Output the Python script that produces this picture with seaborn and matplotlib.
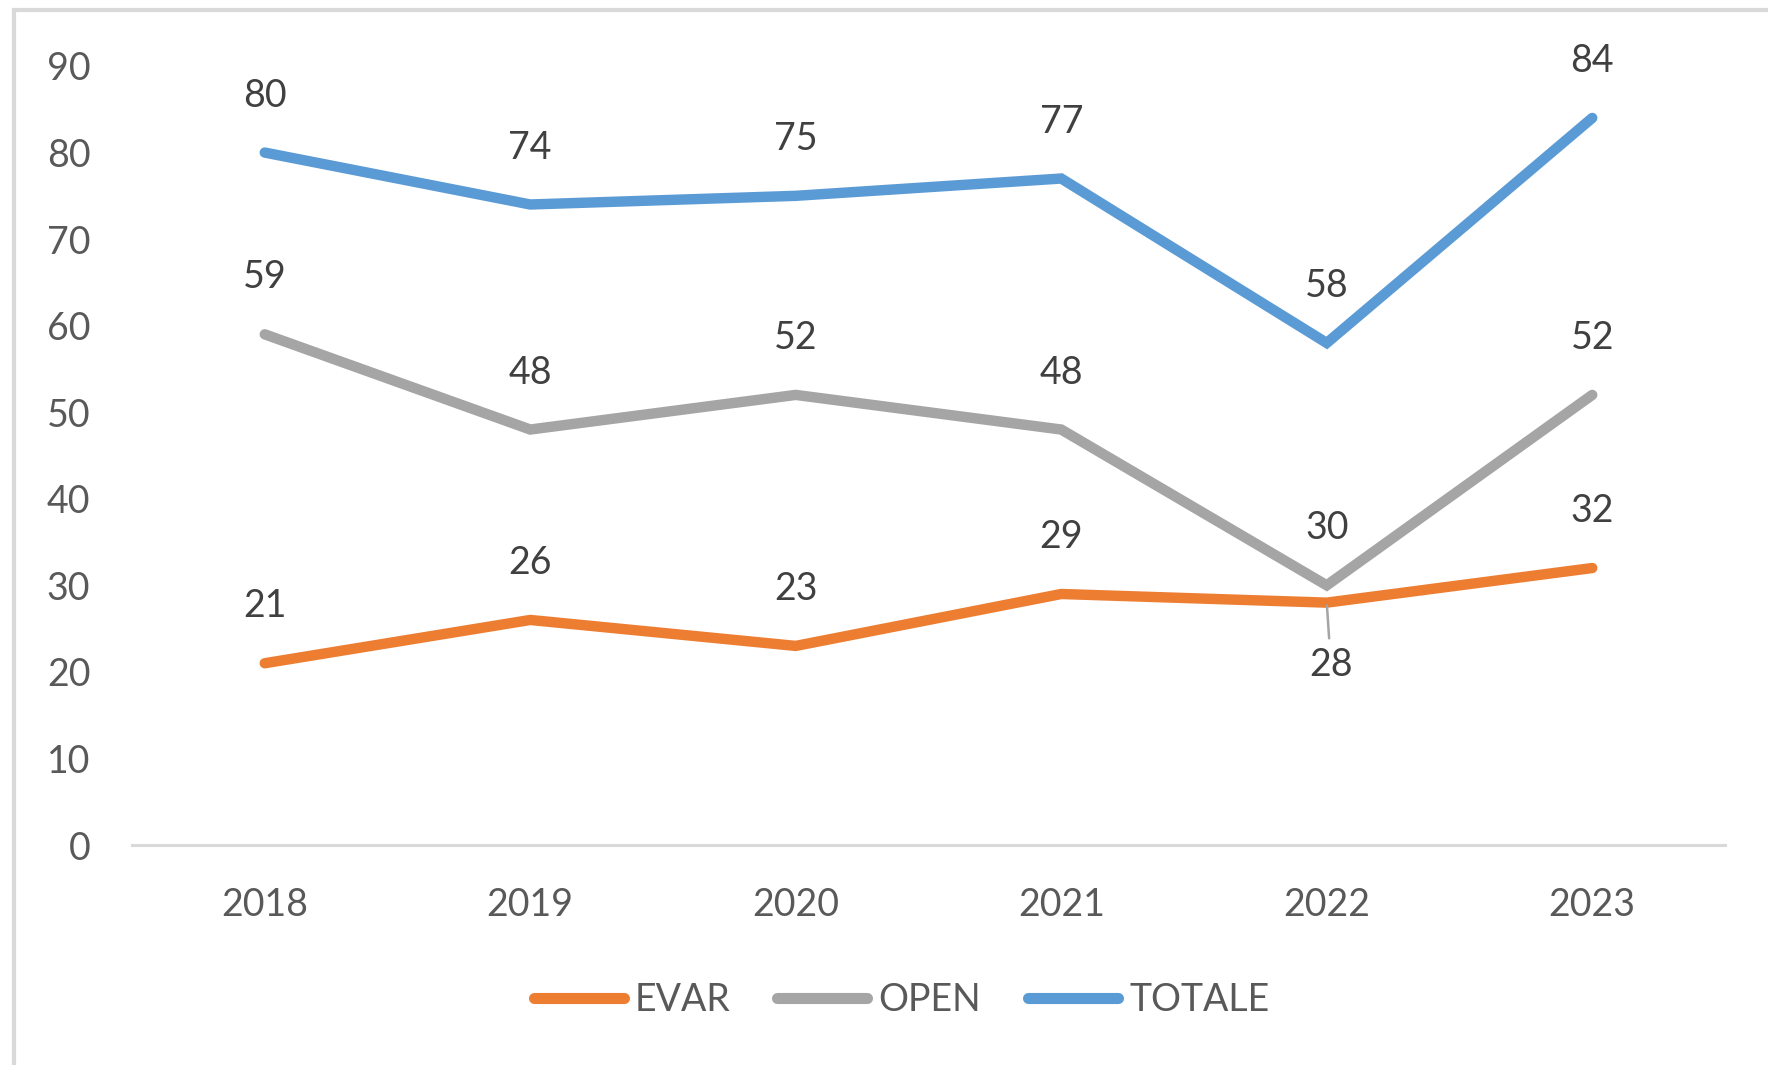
import pandas as pd
import numpy as np
import seaborn as sn
import matplotlib.pyplot as plt
from matplotlib.patches import Rectangle

# data
years = ['2018', '2019', '2020', '2021', '2022', '2023']
evar = [21, 26, 23, 29, 28, 32]
open_ = [59, 48, 52, 48, 30, 52]
totale = [80, 74, 75, 77, 58, 84]
series_names = ['EVAR', 'OPEN', 'TOTALE']
colors = ['#ED7D31', '#A5A5A5', '#5B9BD5']
yticks = [0, 10, 20, 30, 40, 50, 60, 70, 80, 90]

sn.set_style('white')
plt.rcParams['font.family'] = ['Lato', 'DejaVu Sans']

data = pd.DataFrame({
    'anno': years * 3,
    'pos': list(range(len(years))) * 3,
    'valore': evar + open_ + totale,
    'serie': [s for s in series_names for _ in years],
})

fig = plt.figure(figsize=(17.68, 10.65), dpi=100)
ax = fig.add_axes([132 / 1768, 1 - 845 / 1065, (1725 - 132) / 1768, (845 - 66) / 1065])

sn.lineplot(data=data, x='pos', y='valore', hue='serie', palette=colors,
            hue_order=series_names, linewidth=7.5, ax=ax, legend=False,
            solid_capstyle='round', solid_joinstyle='miter')

ax.set_xlim(-0.5, len(years) - 0.5)
ax.set_ylim(0, 90)
ax.set_xticks(range(len(years)))
ax.set_xticklabels(years)
ax.set_yticks(yticks)
ax.set_xlabel('')
ax.set_ylabel('')
ax.tick_params(axis='both', length=0, labelsize=27, labelcolor='#595959')
ax.tick_params(axis='y', pad=30)
ax.tick_params(axis='x', pad=30)
for side in ['top', 'left', 'right']:
    ax.spines[side].set_visible(False)
ax.spines['bottom'].set_color('#D9D9D9')
ax.spines['bottom'].set_linewidth(2.2)
ax.grid(False)

# data labels
for name, vals in zip(series_names, [evar, open_, totale]):
    for i, v in enumerate(vals):
        if name == 'EVAR' and years[i] == '2022':
            ax.annotate(str(v), xy=(i, v), xytext=(3, -45), textcoords='offset points',
                        ha='center', va='center', fontsize=27, color='#404040',
                        arrowprops=dict(arrowstyle='-', color='#A5A5A5', lw=1.8,
                                        shrinkA=4, shrinkB=2))
        else:
            ax.annotate(str(v), xy=(i, v), xytext=(0, 41), textcoords='offset points',
                        ha='center', va='center', fontsize=27, color='#404040')

# legend
handles = [plt.Line2D([], [], color=c, lw=8, solid_capstyle='round') for c in colors]
fig.legend(handles, series_names, loc='center', bbox_to_anchor=(0.51, 1 - 1000 / 1065),
           ncol=3, frameon=False, fontsize=27, labelcolor='#595959',
           handlelength=2.4, handletextpad=0.3, columnspacing=1.25)

# chart area border (only top and left edges visible in the crop)
fig.add_artist(Rectangle((14 / 1768, -0.5), 2, 0.5 + 1 - 10 / 1065,
                         transform=fig.transFigure, fill=False,
                         edgecolor='#D9D9D9', linewidth=3))

plt.savefig('out.png', dpi=100)
